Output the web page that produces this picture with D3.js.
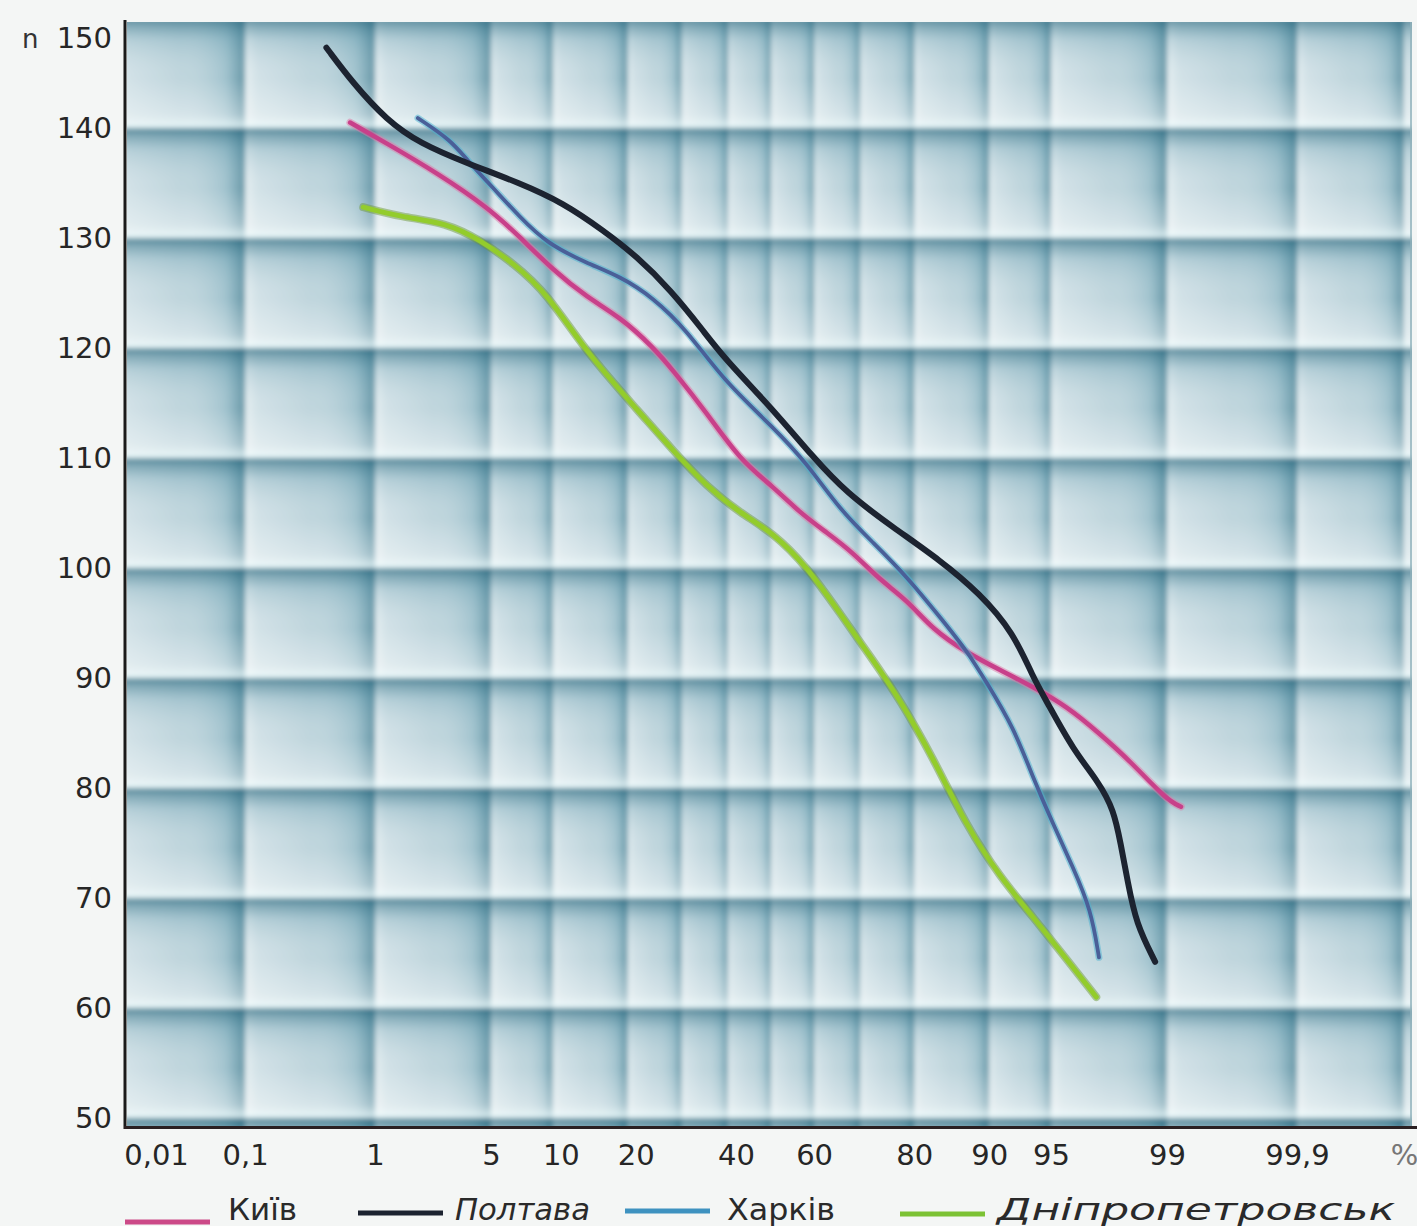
<!DOCTYPE html>
<html>
<head>
<meta charset="utf-8">
<script src="https://cdn.jsdelivr.net/npm/d3@7"></script>
<style>
  html, body { margin: 0; padding: 0; background: #f4f6f5; }
  svg { display: block; }
  text { font-family: "DejaVu Sans", sans-serif; }
</style>
</head>
<body>
<svg id="chart" width="1417" height="1226"></svg>
<script>
// ---------------- data ----------------
const yTicks = [50, 60, 70, 80, 90, 100, 110, 120, 130, 140, 150];
const xTicks = [0.01, 0.1, 1, 5, 10, 20, 40, 60, 80, 90, 95, 99, 99.9, 99.99];
const xTickLabels = ["0,01", "0,1", "1", "5", "10", "20", "40", "60", "80", "90", "95", "99", "99,9", "%"];
const xGrid = [0.1, 1, 5, 10, 20, 30, 40, 50, 60, 70, 80, 90, 95, 99, 99.9, 99.99];

const seriesNames = ["Київ", "Полтава", "Харків", "Дніпропетровськ"];

// cumulative percentage (%) and n
const kyivP = [0.67, 1.2, 2.5, 4.8, 7.0, 10.0, 14.0, 18.8, 24.4, 28.2, 35.3, 42.8, 50.5, 56.8, 62.9, 68.5, 73.9, 78.8, 82.9, 87.5, 91.1, 93.8, 95.9, 97.3, 98.3, 99.0, 99.2];
const kyivN = [140.5, 138.6, 135.9, 132.8, 130.1, 127.1, 124.6, 122.8, 120.1, 118.0, 114.1, 109.8, 107.4, 105.0, 103.2, 101.4, 98.9, 97.1, 94.4, 92.3, 90.7, 89.2, 87.4, 85.0, 82.3, 78.9, 78.3];

const poltavaP = [0.45, 0.70, 1.2, 1.96, 3.7, 7.0, 11.1, 16.2, 21.6, 27.7, 34.5, 38.9, 50.5, 59.7, 67.2, 76.3, 84.0, 89.0, 92.3, 93.8, 94.8, 96.2, 97.3, 97.8, 98.0, 98.2, 98.4, 98.8];
const poltavaN = [147.3, 144.1, 140.7, 138.6, 136.8, 135.0, 133.2, 130.7, 128.3, 125.3, 121.6, 119.2, 114.4, 110.1, 106.8, 103.7, 100.7, 97.7, 94.1, 90.1, 87.7, 83.5, 80.5, 78.0, 75.0, 71.4, 67.7, 64.2];

const kharkivP = [1.9, 3.0, 3.7, 5.1, 7.0, 9.4, 14.0, 18.8, 24.4, 31.1, 38.9, 50.5, 58.4, 65.7, 72.6, 78.8, 84.0, 87.5, 89.8, 92.3, 93.8, 95.1, 96.2, 97.0, 97.3];
const kharkivN = [140.9, 138.9, 137.1, 134.6, 131.9, 129.5, 127.7, 126.5, 124.6, 121.6, 117.1, 112.8, 109.5, 105.3, 102.3, 99.2, 95.5, 92.5, 89.5, 85.5, 81.0, 76.8, 72.8, 68.9, 64.6];

const dniproP = [0.83, 1.5, 2.8, 4.4, 6.5, 9.4, 14.0, 22.1, 28.2, 35.3, 42.8, 50.5, 58.4, 65.7, 72.6, 77.6, 82.9, 87.5, 91.1, 93.8, 95.9, 97.2];
const dniproN = [132.8, 131.9, 131.4, 129.8, 127.7, 125.0, 119.5, 114.1, 110.7, 107.4, 105.0, 103.2, 100.1, 95.9, 91.6, 88.0, 82.8, 76.5, 71.9, 68.3, 64.4, 61.0];

// ---------------- helpers ----------------
// inverse standard normal CDF (Acklam) for the probability-paper axis
function probit(p) {
  const a = [-3.969683028665376e+01, 2.209460984245205e+02, -2.759285104469687e+02, 1.383577518672690e+02, -3.066479806614716e+01, 2.506628277459239e+00];
  const b = [-5.447609879822406e+01, 1.615858368580409e+02, -1.556989798598866e+02, 6.680131188771972e+01, -1.328068155288572e+01];
  const c = [-7.784894002430293e-03, -3.223964580411365e-01, -2.400758277161838e+00, -2.549732539343734e+00, 4.374664141464968e+00, 2.938163982698783e+00];
  const d = [7.784695709041462e-03, 3.224671290700398e-01, 2.445134137142996e+00, 3.754408661907416e+00];
  const pl = 0.02425, ph = 1 - pl;
  let q, r;
  if (p < pl) { q = Math.sqrt(-2 * Math.log(p));
    return (((((c[0]*q+c[1])*q+c[2])*q+c[3])*q+c[4])*q+c[5]) / ((((d[0]*q+d[1])*q+d[2])*q+d[3])*q+1); }
  if (p <= ph) { q = p - 0.5; r = q*q;
    return (((((a[0]*r+a[1])*r+a[2])*r+a[3])*r+a[4])*r+a[5])*q / (((((b[0]*r+b[1])*r+b[2])*r+b[3])*r+b[4])*r+1); }
  q = Math.sqrt(-2 * Math.log(1 - p));
  return -(((((c[0]*q+c[1])*q+c[2])*q+c[3])*q+c[4])*q+c[5]) / ((((d[0]*q+d[1])*q+d[2])*q+d[3])*q+1);
}

const svg = d3.select("#chart");
const plotL = 127, plotR = 1412, plotT = 22, plotB = 1126;

const zScale = d3.scaleLinear().domain([probit(0.0001), probit(0.9999)]).range([138, 1404]);
const xp = p => zScale(probit(p / 100));
const y = d3.scaleLinear().domain([50, 150]).range([1118, 18]);

// ---------------- defs ----------------
const defs = svg.append("defs");
defs.append("clipPath").attr("id", "plotClip")
  .append("rect").attr("x", plotL).attr("y", plotT).attr("width", plotR - plotL).attr("height", plotB - plotT);
defs.append("filter").attr("id", "soft").attr("x", "-5%").attr("y", "-5%").attr("width", "110%").attr("height", "110%")
  .append("feGaussianBlur").attr("stdDeviation", 2.6);

const colGrad = defs.append("linearGradient").attr("id", "colGrad")
  .attr("x1", 0).attr("x2", 1).attr("y1", 0).attr("y2", 0);
[[0, "#ffffff", 0.6], [0.1, "#ffffff", 0.32], [0.5, "#ffffff", 0.04], [0.85, "#2a7a93", 0.2], [0.96, "#175f77", 0.45], [1, "#145f78", 0.55]]
  .forEach(s => colGrad.append("stop").attr("offset", s[0]).attr("stop-color", s[1]).attr("stop-opacity", s[2]));

const rowGrad = defs.append("linearGradient").attr("id", "rowGrad")
  .attr("x1", 0).attr("x2", 0).attr("y1", 0).attr("y2", 1);
[[0, "#135870", 0.65], [0.07, "#22657c", 0.45], [0.2, "#4a8aa0", 0.2], [0.55, "#ffffff", 0.04], [0.88, "#ffffff", 0.38], [0.97, "#f4ffff", 0.7], [1, "#e8fbff", 0.75]]
  .forEach(s => rowGrad.append("stop").attr("offset", s[0]).attr("stop-color", s[1]).attr("stop-opacity", s[2]));

// ---------------- background grid ----------------
const bgOuter = svg.append("g").attr("clip-path", "url(#plotClip)");
const bg = bgOuter.append("g").attr("filter", "url(#soft)");
bg.append("rect").attr("x", plotL - 30).attr("y", plotT - 30).attr("width", plotR - plotL + 60).attr("height", plotB - plotT + 60)
  .attr("fill", "#bad2da");

// columns between vertical grid lines
const colEdges = [plotL - 12].concat(xGrid.map(xp)).concat([plotR + 40]);
const cols = d3.pairs(colEdges);
bg.selectAll("rect.col").data(cols).join("rect").attr("class", "col")
  .attr("x", d => d[0]).attr("y", plotT - 30).attr("width", d => d[1] - d[0]).attr("height", plotB - plotT + 60)
  .attr("fill", "url(#colGrad)");

// rows between horizontal grid lines (dark at top)
const rows = d3.pairs([160].concat(yTicks.slice().reverse()).concat([40]));
bg.selectAll("rect.row").data(rows).join("rect").attr("class", "row")
  .attr("x", plotL - 30).attr("y", d => y(d[0])).attr("width", plotR - plotL + 60).attr("height", d => y(d[1]) - y(d[0]))
  .attr("fill", "url(#rowGrad)");

// ---------------- axes ----------------
const yAxis = d3.axisLeft(y).tickValues(yTicks).tickSize(0).tickPadding(13);
const gy = svg.append("g").attr("transform", `translate(125,0)`).call(yAxis);
gy.select(".domain").remove();
gy.selectAll("text").attr("font-size", 29).attr("fill", "#262626").attr("font-family", "DejaVu Sans");
gy.selectAll(".tick").filter(d => d === 150).attr("transform", "translate(0,39)");

svg.append("text").attr("x", 22).attr("y", 48).text("n")
  .attr("font-size", 26).attr("fill", "#333");

const xAxis = d3.axisBottom(zScale).tickValues(xTicks.map(p => probit(p / 100)))
  .tickFormat((d, i) => xTickLabels[i]).tickSize(0).tickPadding(17);
const gx = svg.append("g").attr("transform", `translate(0,1127)`).call(xAxis);
gx.select(".domain").remove();
gx.selectAll("text").attr("font-size", 29).attr("fill", "#262626").attr("font-family", "DejaVu Sans");
gx.selectAll(".tick text").filter((d, i) => i === 0).attr("dx", 18);
gx.selectAll(".tick text").filter((d, i) => i >= 4 && i <= 6).attr("dx", 8);
gx.selectAll(".tick text").filter((d, i) => i === 13).attr("fill", "#777");

// axis lines
svg.append("line").attr("x1", 125).attr("x2", 125).attr("y1", 20).attr("y2", 1129)
  .attr("stroke", "#1a1a1a").attr("stroke-width", 3);
svg.append("line").attr("x1", 124).attr("x2", 1417).attr("y1", 1127.5).attr("y2", 1127.5)
  .attr("stroke", "#2a2022").attr("stroke-width", 3);
svg.append("line").attr("x1", 1411).attr("x2", 1411).attr("y1", 22).attr("y2", 1126)
  .attr("stroke", "#8fb0ba").attr("stroke-width", 1.5);

// ---------------- curves ----------------
const series = [
  { name: seriesNames[3], P: dniproP, N: dniproN, color: "#93cc2c", under: "#6f9a3a", w: 5 },
  { name: seriesNames[0], P: kyivP, N: kyivN, color: "#c8408a", under: "#e07aa8", w: 4.5 },
  { name: seriesNames[2], P: kharkivP, N: kharkivN, color: "#4a5f98", under: "#49b2d2", w: 3.8 },
  { name: seriesNames[1], P: poltavaP, N: poltavaN, color: "#1c2330", under: null, w: 6 }
];
const line = d3.line().x(d => xp(d[0])).y(d => y(d[1])).curve(d3.curveBasis);
const gl = svg.append("g").attr("clip-path", "url(#plotClip)");
series.forEach(s => {
  const pts = s.P.map((p, i) => [p, s.N[i]]);
  if (s.under) {
    gl.append("path").attr("d", line(pts)).attr("fill", "none")
      .attr("stroke", s.under).attr("stroke-width", s.w + 3).attr("stroke-opacity", 0.5)
      .attr("stroke-linecap", "round").attr("stroke-linejoin", "round");
  }
  gl.append("path").attr("d", line(pts)).attr("fill", "none")
    .attr("stroke", s.color).attr("stroke-width", s.w)
    .attr("stroke-linecap", "round").attr("stroke-linejoin", "round");
});

// ---------------- legend ----------------
const legend = [
  { name: seriesNames[0], color: "#cc4a88", x1: 125, x2: 210, ly: 1222, tx: 228, tw: 69, italic: false },
  { name: seriesNames[1], color: "#1c2330", x1: 358, x2: 443, ly: 1213, tx: 455, tw: 135, italic: true },
  { name: seriesNames[2], color: "#3e92c0", x1: 625, x2: 710, ly: 1211, tx: 727, tw: 108, italic: false },
  { name: seriesNames[3], color: "#7cc234", x1: 900, x2: 985, ly: 1214, tx: 997, tw: 398, italic: true }
];
const lg = svg.append("g");
lg.selectAll("line").data(legend).join("line")
  .attr("x1", d => d.x1).attr("x2", d => d.x2).attr("y1", d => d.ly).attr("y2", d => d.ly)
  .attr("stroke", d => d.color).attr("stroke-width", 5);
lg.selectAll("text").data(legend).join("text")
  .attr("x", d => d.tx).attr("y", 1220).text(d => d.name)
  .attr("font-size", 30).attr("fill", "#2a2a2a")
  .attr("font-style", d => d.italic ? "italic" : "normal")
  .attr("textLength", d => d.tw).attr("lengthAdjust", "spacingAndGlyphs");
</script>
</body>
</html>
